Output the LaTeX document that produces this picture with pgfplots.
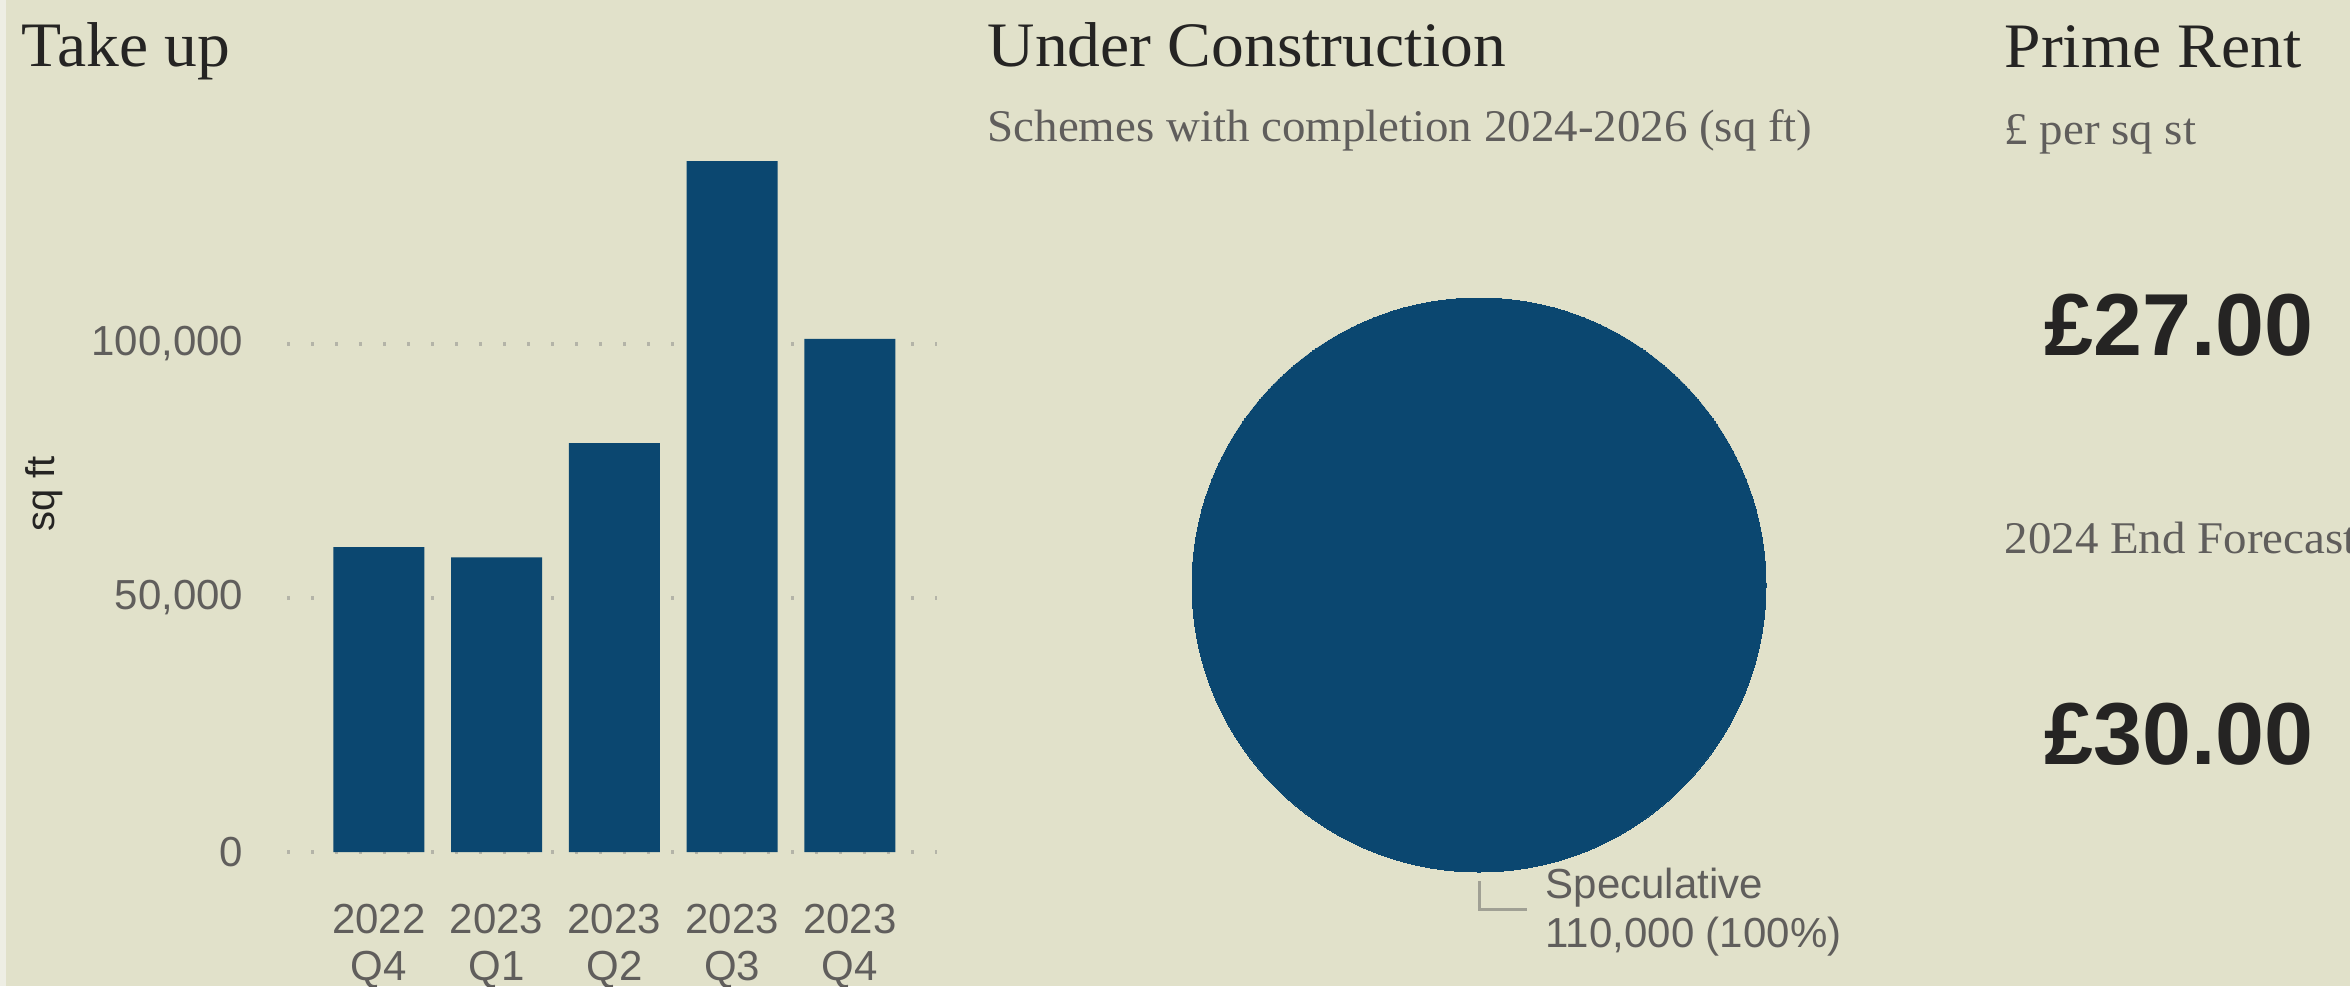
\documentclass[border=0pt]{standalone}
\usepackage{fontspec}
\setmainfont{Liberation Serif}[FakeStretch=1.035]
\setsansfont{Liberation Sans}
\usepackage{pgfplots}
\pgfplotsset{compat=1.18}
\definecolor{bg}{RGB}{225,225,202}
\definecolor{strip}{RGB}{238,238,228}
\definecolor{barc}{RGB}{11,71,112}
\definecolor{titlec}{RGB}{37,36,35}
\definecolor{lbl}{RGB}{96,94,92}
\definecolor{gridc}{RGB}{180,180,168}
\definecolor{leader}{RGB}{160,160,148}
\newcommand\titlefont{\fontsize{19}{22}\selectfont\rmfamily}
\newcommand\subfont{\fontsize{13.6}{16}\selectfont\rmfamily}
\newcommand\lblfont{\fontsize{12.6}{14.1}\selectfont\sffamily}
\newcommand\bigfont{\fontsize{26.4}{32}\selectfont\sffamily\bfseries}
\begin{document}
\begin{tikzpicture}[x=0.3pt,y=0.3pt]
\fill[bg] (0,0) rectangle (2350,986);
\fill[strip] (0,0) rectangle (6,986);
\path[use as bounding box] (0,0) rectangle (2350,986);
\clip (0,0) rectangle (2350,986);

% ---- Take up bar chart
\begin{axis}[
  at={(86.1pt,40.2pt)}, anchor=south west,
  scale only axis, width=195pt, height=213.36pt,
  xmin=-0.78, xmax=4.74, ymin=0, ymax=140000,
  ybar, bar width=27.3pt,
  axis line style={draw=none}, major tick length=0pt, tick style={draw=none},
  ymajorgrids=true,
  major grid style={gridc, line width=1.0pt, dash pattern=on 0.9pt off 6.3pt},
  ytick={0,50000,100000},
  scaled y ticks=false,
  yticklabels={0,{50,000},{100,000}},
  yticklabel style={font=\lblfont, text=lbl, anchor=east, inner sep=0pt, xshift=-12.9pt},
  xtick={0,1,2,3,4},
  xticklabels={{2022\\Q4},{2023\\Q1},{2023\\Q2},{2023\\Q3},{2023\\Q4}},
  xticklabel style={align=center, anchor=north, inner sep=0pt, yshift=-15.3pt,
    font=\lblfont, text=lbl},
  clip=false,
]
\addplot[ybar, fill=barc, draw=none] coordinates {(0,60000) (1,58000) (2,80500) (3,136000) (4,101000)};
\end{axis}
\node[rotate=90, anchor=center, inner sep=0pt, font=\fontsize{12}{14}\selectfont\sffamily, text=titlec] at (44,492) {sq ft};
\node[anchor=base west, inner sep=0pt, font=\titlefont, text=titlec] at (21,919) {Take up};

% ---- Under Construction pie
\node[anchor=base west, inner sep=0pt, font=\titlefont, text=titlec] at (987,919) {Under Construction};
\node[anchor=base west, inner sep=0pt, font=\subfont, text=lbl] at (987,844) {Schemes with completion 2024-2026 (sq ft)};
\begin{axis}[
  at={(443.7pt,120.3pt)}, anchor=center,
  scale only axis, x=0.3pt, y=0.3pt,
  xmin=-300, xmax=300, ymin=-300, ymax=300,
  hide axis, clip=false,
]
\addplot[barc, only marks, mark=*, mark size=86.1pt, mark options={fill=barc, draw=barc, line width=0pt}] coordinates {(0,0)};
\draw[leader, line width=0.9pt] (axis cs:0,-296) -- (axis cs:0,-324) -- (axis cs:48,-324);
\node[anchor=base west, inner sep=0pt, font=\lblfont, text=lbl] at (axis cs:66,-313) {Speculative};
\node[anchor=base west, inner sep=0pt, font=\lblfont, text=lbl] at (axis cs:66,-362) {110,000 (100\%)};
\end{axis}

% ---- Prime Rent
\node[anchor=base west, inner sep=0pt, font=\titlefont, text=titlec] at (2004,918) {Prime Rent};
\node[anchor=base west, inner sep=0pt, font=\subfont, text=lbl] at (2004,841) {£ per sq st};
\node[anchor=base, inner sep=0pt, font=\bigfont, text=titlec] at (2179,631) {£27.00};
\node[anchor=base west, inner sep=0pt, font=\subfont, text=lbl] at (2004,433) {2024 End Forecast};
\node[anchor=base, inner sep=0pt, font=\bigfont, text=titlec] at (2179,222) {£30.00};
\end{tikzpicture}
\end{document}
